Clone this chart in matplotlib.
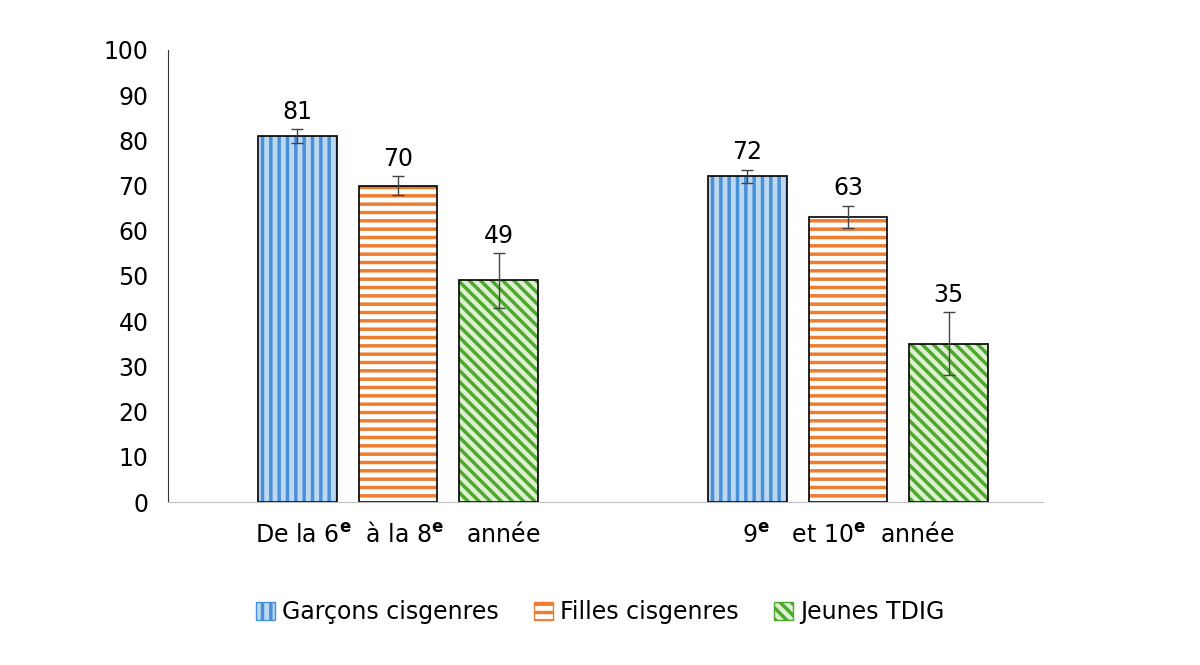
import matplotlib
matplotlib.use("Agg")
import matplotlib.pyplot as plt
import numpy as np

plt.rcParams['font.family'] = 'DejaVu Sans'
plt.rcParams['hatch.linewidth'] = 2.5

groups = ["De la 6$^{\\mathbf{e}}$  à la 8$^{\\mathbf{e}}$   année", "9$^{\\mathbf{e}}$   et 10$^{\\mathbf{e}}$  année"]
series = ["Garçons cisgenres", "Filles cisgenres", "Jeunes TDIG"]
values = [[81, 72], [70, 63], [49, 35]]
errors = [[1.5, 1.5], [2, 2.5], [6, 7]]

faces = ["#bcd7f0", "#ffffff", "#dff0d0"]
hatch_cols = ["#4a90d9", "#ed7d31", "#4ea72e"]
hatches = ["||", "--", "\\\\\\"]

fig = plt.figure(figsize=(12, 6.65), dpi=100)
ax = fig.add_axes([0.14, 0.245, 0.729, 0.68])

x = np.arange(len(groups))
w = 0.175
off = 0.224
handles = []
for i, s in enumerate(series):
    pos = x + (i - 1) * off
    ax.bar(pos, values[i], w, color=faces[i], edgecolor=hatch_cols[i],
           hatch=hatches[i], linewidth=0)
    ax.bar(pos, values[i], w, fill=False, edgecolor="black", linewidth=1.2)
    ax.errorbar(pos, values[i], yerr=errors[i], fmt="none", ecolor="#444444",
                elinewidth=1, capsize=4)
    for p, v, e in zip(pos, values[i], errors[i]):
        ax.text(p, v + max(e, 1.5) + 1.2, str(v), ha="center", va="bottom", fontsize=17)
    handles.append(plt.Rectangle((0, 0), 1, 1, facecolor=faces[i], edgecolor=hatch_cols[i],
                                 hatch=hatches[i], linewidth=1))

ax.set_ylim(0, 100)
ax.set_yticks(range(0, 101, 10))
ax.set_xlim(-0.511, 1.433)
ax.set_xticks(x)
ax.set_xticklabels(groups, fontsize=17)
ax.tick_params(axis="y", labelsize=17, length=0, pad=14)
ax.tick_params(axis="x", length=0, pad=14)
ax.spines["top"].set_visible(False)
ax.spines["right"].set_visible(False)
ax.spines["left"].set_color("#333333")
ax.spines["bottom"].set_color("#bfbfbf")

fig.legend(handles, series, loc="lower center", ncol=3, frameon=False, fontsize=17,
           bbox_to_anchor=(0.5, 0.03), handlelength=0.8, handleheight=0.8,
           columnspacing=1.5, handletextpad=0.3)

fig.savefig("out.png", dpi=100)
